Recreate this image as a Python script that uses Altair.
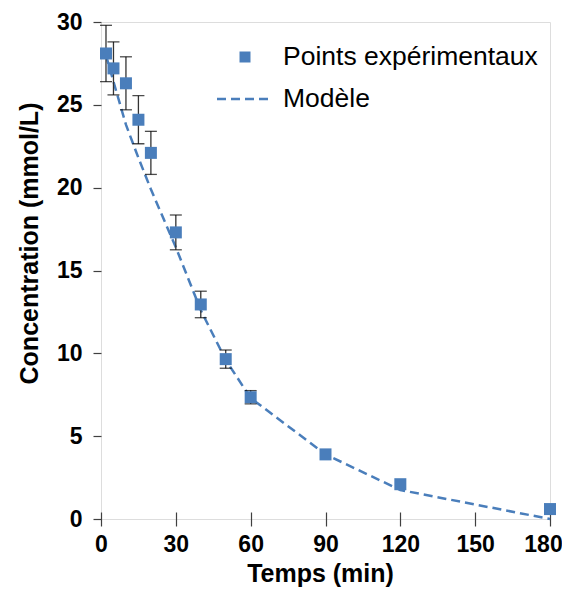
import altair as alt
import pandas as pd

# Experimental data
temps = [2, 5, 10, 15, 20, 30, 40, 50, 60, 90, 120, 180]
concentration = [28.1, 27.2, 26.3, 24.1, 22.1, 17.3, 12.95, 9.65, 7.35, 3.9, 2.1, 0.6]
erreur = [1.7, 1.6, 1.6, 1.45, 1.3, 1.05, 0.8, 0.55, 0.4, 0.0, 0.0, 0.0]

# Model curve
temps_modele = [2, 5, 10, 15, 20, 30, 40, 50, 60, 90, 120, 180]
conc_modele = [28.0, 26.4, 23.8, 21.8, 19.9, 16.4, 12.6, 9.6, 7.3, 3.9, 1.75, 0.0]

BLUE = "#4a7ebb"
FRAME = "#404040"
FONT = "Liberation Sans"

df = pd.DataFrame({"t": temps, "c": concentration, "e": erreur})
df["lo"] = df["c"] - df["e"]
df["hi"] = df["c"] + df["e"]
df_err = df[df["e"] > 0]
dm = pd.DataFrame({"t": temps_modele, "c": conc_modele})

xscale = alt.Scale(domain=[0, 180], nice=False, zero=False)
yscale = alt.Scale(domain=[0, 30], nice=False, zero=False)

xaxis = alt.Axis(
    values=[0, 30, 60, 90, 120, 150, 180], title="Temps (min)", grid=False,
    domain=False, offset=-7, tickSize=14, tickColor=FRAME, tickWidth=1.2,
    labelFont=FONT, labelFontSize=23, labelFontWeight="bold", labelColor="black",
    labelPadding=7, labelFlush=False,
    labelOffset={"condition": {"test": "datum.value == 180", "value": -7}, "value": 0},
    titleFont=FONT, titleFontSize=25, titleFontWeight="bold",
    titleColor="black", titlePadding=5, titleX=219,
)
yaxis = alt.Axis(
    values=[0, 5, 10, 15, 20, 25, 30], title="Concentration (mmol/L)", grid=False,
    domain=False, tickSize=8, tickColor=FRAME, tickWidth=1.2,
    labelFont=FONT, labelFontSize=23, labelFontWeight="bold", labelColor="black",
    labelPadding=11, titleFont=FONT, titleFontSize=25, titleFontWeight="bold",
    titleColor="black", titlePadding=14, titleY=221,
)

base = alt.Chart(df)

model = alt.Chart(dm).mark_line(color=BLUE, strokeWidth=2.5, strokeDash=[9, 5]).encode(
    x=alt.X("t:Q", scale=xscale, axis=xaxis),
    y=alt.Y("c:Q", scale=yscale, axis=yaxis),
)

err_rule = alt.Chart(df_err).mark_rule(color="#333333", strokeWidth=1.3).encode(
    x="t:Q", y="lo:Q", y2="hi:Q"
)
cap_lo = alt.Chart(df_err).mark_tick(color="black", thickness=1.3, size=12, orient="horizontal").encode(
    x="t:Q", y="lo:Q"
)
cap_hi = alt.Chart(df_err).mark_tick(color="black", thickness=1.3, size=12, orient="horizontal").encode(
    x="t:Q", y="hi:Q"
)

points = base.mark_square(color=BLUE, size=144, opacity=1).encode(
    x="t:Q", y="c:Q"
)

# Legend (drawn manually)
leg_sq = alt.Chart(pd.DataFrame({"k": [0]})).mark_square(color=BLUE, size=121, opacity=1).encode(
    x=alt.value(144), y=alt.value(35)
)
leg_line = alt.Chart(pd.DataFrame({"k": [0]})).mark_rule(color=BLUE, strokeWidth=2.5, strokeDash=[9, 5]).encode(
    x=alt.value(116), x2=alt.value(170), y=alt.value(77)
)
leg_txt = alt.Chart(pd.DataFrame({"lab": ["Points expérimentaux", "Modèle"], "yy": [35, 77]})).mark_text(
    font=FONT, fontSize=26.5, align="left", baseline="middle", color="black"
).encode(
    text="lab:N", x=alt.value(182), y=alt.Y("yy:Q", scale=None, axis=None)
)

chart = alt.layer(model, err_rule, cap_lo, cap_hi, points, leg_sq, leg_line, leg_txt).properties(
    width=449, height=497,
    autosize=alt.AutoSizeParams(type="none"),
    padding={"left": 93, "top": 14, "right": 12, "bottom": 74},
).configure_view(stroke=FRAME, strokeWidth=1.3).configure(background="white")

chart.save("out.html", embed_options={"renderer": "svg", "actions": False})
